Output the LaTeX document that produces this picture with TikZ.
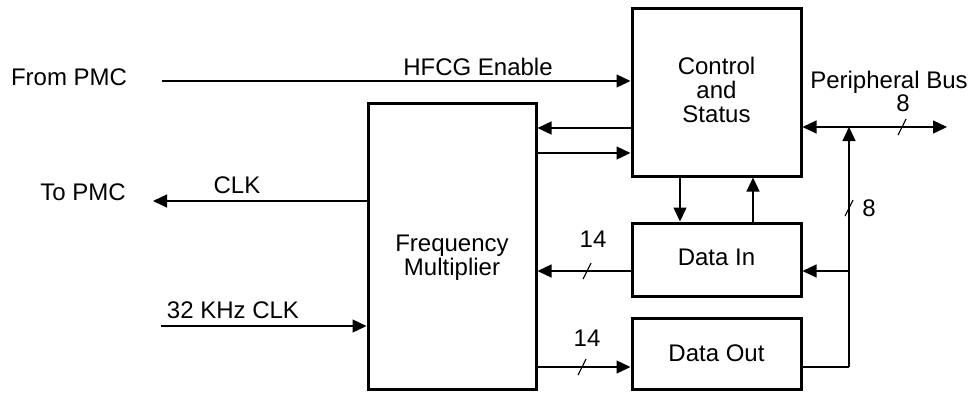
\documentclass[tikz,border=0pt]{standalone}
\usepackage{fontspec}
\setmainfont{Liberation Sans}
\usetikzlibrary{arrows.meta}
\begin{document}
\begin{tikzpicture}[x=1pt,y=-1pt,
  blk/.style={draw,line width=3pt,inner sep=0pt,align=center,font=\fontsize{24}{24}\selectfont},
  lbl/.style={inner sep=0pt,font=\fontsize{24}{24}\selectfont,align=center},
  wire/.style={line width=1.3pt},
  arr/.style={wire,-{Triangle[length=14pt,width=13pt]}},
  darr/.style={wire,{Triangle[length=14pt,width=13pt]}-{Triangle[length=14pt,width=13pt]}},
  slash/.style={line width=1.1pt}]
\useasboundingbox (0,0) rectangle (971,392);
% blocks
\node[blk,minimum width=169pt,minimum height=168pt] (ctrl) at (716.5,92) {};
\node[lbl] (ctrltxt) at (716.5,90) {Control\\and\\Status};
\node[blk,minimum width=168pt,minimum height=286pt] (fm) at (452,246.5) {};
\node[lbl] (fmtxt) at (452,258) {Frequency\\Multiplier};
\node[blk,minimum width=169pt,minimum height=73pt] (din) at (716.5,259.5) {};
\node[lbl] (dintxt) at (716.5,257) {Data In};
\node[blk,minimum width=169pt,minimum height=71pt] (dout) at (716.5,354) {};
\node[lbl] (douttxt) at (716.5,353) {Data Out};
% labels
\node[lbl] (frompmc) at (69,77) {From PMC};
\node[lbl] (topmc) at (83,192) {To PMC};
\node[lbl] (clk) at (237,185) {CLK};
\node[lbl] (khz) at (233,310) {32 KHz CLK};
\node[lbl] (hfcg) at (478,67) {HFCG Enable};
\node[lbl] (pbus) at (889,82) {Peripheral Bus};
\node[lbl] (b8a) at (903,103) {8};
\node[lbl] (n14a) at (593,239) {14};
\node[lbl] (n14b) at (587,338) {14};
\node[lbl] (b8b) at (869,208) {8};
% coordinates
\coordinate (pmcin) at (162,81);
\coordinate (clkout) at (153,201);
\coordinate (khzin) at (161,326);
\coordinate (busend) at (947,127);
\coordinate (junc) at (849,127);
\coordinate (jdin) at (849,271);
\coordinate (jdout) at (849,367);
% connectors
\draw[arr] (pmcin) -- (pmcin -| ctrl.west);
\draw[arr] (ctrl.west |- 0,128) -- (fm.east |- 0,128);
\draw[arr] (fm.east |- 0,153) -- (ctrl.west |- 0,153);
\draw[arr] (fm.west |- clkout) -- (clkout);
\draw[arr] (khzin) -- (khzin -| fm.west);
\draw[arr] (ctrl.south -| 680,0) -- (din.north -| 680,0);
\draw[arr] (din.north -| 753,0) -- (ctrl.south -| 753,0);
\draw[arr] (din.west |- 0,271) -- (fm.east |- 0,271);
\draw[arr] (fm.east |- 0,367) -- (dout.west |- 0,367);
\draw[wire] (dout.east |- jdout) -- (jdout);
\draw[arr] (jdout) -- (junc);
\draw[arr] (jdin) -- (jdin -| din.east);
\draw[darr] (ctrl.east |- busend) -- (busend);
% bus slashes
\draw[slash] (898,135) -- (906,119);
\draw[slash] (845,216) -- (853,200);
\draw[slash] (583,279) -- (591,263);
\draw[slash] (578,375) -- (586,359);
\end{tikzpicture}
\end{document}
